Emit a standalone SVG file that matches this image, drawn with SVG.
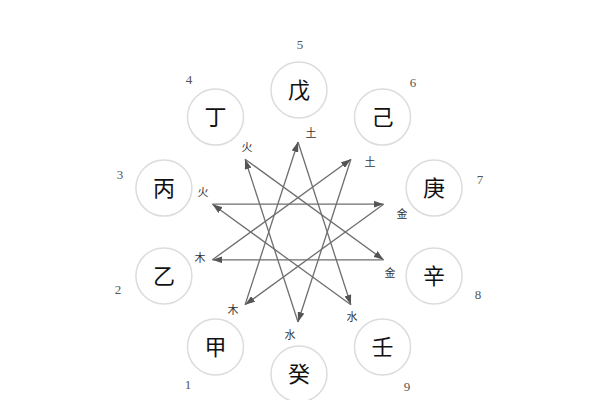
<svg xmlns="http://www.w3.org/2000/svg" width="600" height="400" viewBox="0 0 600 400">
<style>
.stem circle{fill:#fff;stroke:#dcdcdc;stroke-width:1.5}
.stem text{font-family:"Noto Sans CJK SC","Noto Sans CJK TC",sans-serif;font-size:22px;fill:#111;text-anchor:middle}
.num{font-family:"Liberation Serif",serif;font-size:13px;fill:#555;text-anchor:middle}
.el{font-family:"Noto Sans CJK SC",sans-serif;font-size:11px;fill:#333;text-anchor:middle}
.conn line{stroke:#6e6e6e;stroke-width:1.3;marker-end:url(#ah)}
</style>
<defs>
<marker id="ah" viewBox="0 0 10 7" refX="10" refY="3.5" markerWidth="10" markerHeight="7" markerUnits="userSpaceOnUse" orient="auto">
<path d="M0,0 L10,3.5 L0,7 z" fill="#555"/>
</marker>
</defs>
<rect width="600" height="400" fill="#fff"/>
<g id="connectors" class="conn">
<line x1="298" y1="142" x2="350.9" y2="304.8"/>
<line x1="350.9" y1="304.8" x2="212.4" y2="204.2"/>
<line x1="212.4" y1="204.2" x2="383.6" y2="204.2"/>
<line x1="383.6" y1="204.2" x2="245.1" y2="304.8"/>
<line x1="245.1" y1="304.8" x2="298" y2="142"/>
<line x1="350.9" y1="159.2" x2="298" y2="322"/>
<line x1="298" y1="322" x2="245.1" y2="159.2"/>
<line x1="245.1" y1="159.2" x2="383.6" y2="259.8"/>
<line x1="383.6" y1="259.8" x2="212.4" y2="259.8"/>
<line x1="212.4" y1="259.8" x2="350.9" y2="159.2"/>
</g>
<g id="element-labels">
<text class="el" x="311" y="137">土</text>
<text class="el" x="370" y="166">土</text>
<text class="el" x="402" y="218">金</text>
<text class="el" x="390" y="277">金</text>
<text class="el" x="352" y="321">水</text>
<text class="el" x="290" y="339">水</text>
<text class="el" x="233" y="314">木</text>
<text class="el" x="200" y="262">木</text>
<text class="el" x="203" y="196">火</text>
<text class="el" x="247" y="151">火</text>
</g>
<g id="stem-jia" class="stem"><circle cx="215.5" cy="346.9" r="28"/><text x="215.5" y="354.9">甲</text></g>
<g id="stem-yi" class="stem"><circle cx="163.9" cy="275.9" r="28"/><text x="163.9" y="283.9">乙</text></g>
<g id="stem-bing" class="stem"><circle cx="163.9" cy="188.1" r="28"/><text x="163.9" y="196.1">丙</text></g>
<g id="stem-ding" class="stem"><circle cx="215.5" cy="117.1" r="28"/><text x="215.5" y="125.1">丁</text></g>
<g id="stem-wu" class="stem"><circle cx="299" cy="90" r="28"/><text x="299" y="98">戊</text></g>
<g id="stem-ji" class="stem"><circle cx="382.5" cy="117.1" r="28"/><text x="382.5" y="125.1">己</text></g>
<g id="stem-geng" class="stem"><circle cx="434.1" cy="188.1" r="28"/><text x="434.1" y="196.1">庚</text></g>
<g id="stem-xin" class="stem"><circle cx="434.1" cy="275.9" r="28"/><text x="434.1" y="283.9">辛</text></g>
<g id="stem-ren" class="stem"><circle cx="382.5" cy="346.9" r="28"/><text x="382.5" y="354.9">壬</text></g>
<g id="stem-gui" class="stem"><circle cx="299" cy="374" r="28"/><text x="299" y="382">癸</text></g>
<g id="numbers">
<text class="num" x="188" y="389">1</text>
<text class="num" x="118" y="294">2</text>
<text class="num" x="120" y="179">3</text>
<text class="num" x="189" y="84">4</text>
<text class="num" x="300" y="49">5</text>
<text class="num" x="413" y="87">6</text>
<text class="num" x="480" y="184">7</text>
<text class="num" x="478" y="299">8</text>
<text class="num" x="407" y="391">9</text>
</g>
</svg>
